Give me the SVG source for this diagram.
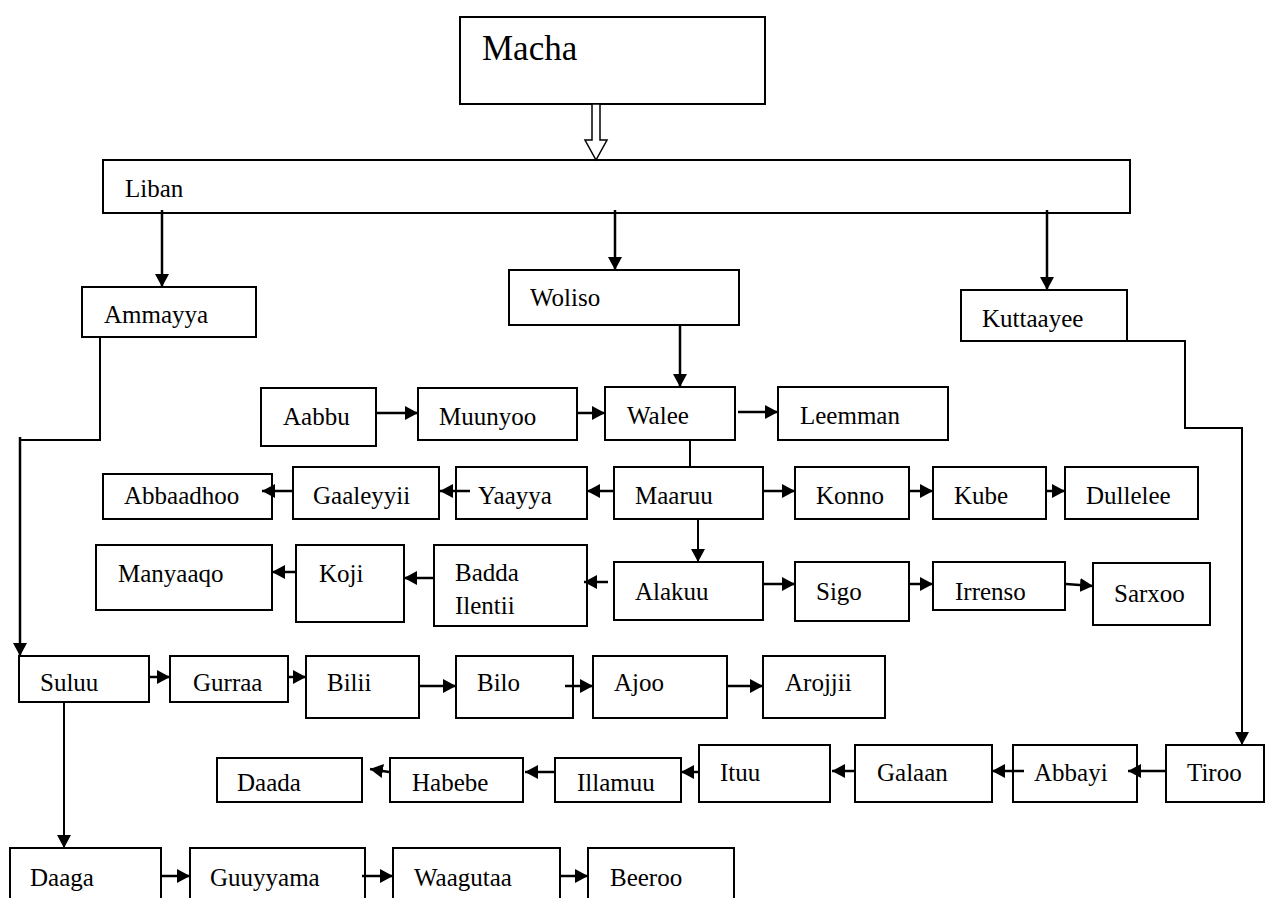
<svg xmlns="http://www.w3.org/2000/svg" width="1266" height="898" viewBox="0 0 1266 898">
<style>
.box{fill:#fff;stroke:#000;stroke-width:2}
.t{font-family:"Liberation Serif","Times New Roman",serif;font-size:25px;fill:#000}
.big{font-size:35px}
.c{fill:none;stroke:#000;stroke-width:2.5}
.c2{fill:none;stroke:#000;stroke-width:2}
</style>
<defs>
<marker id="ah" markerUnits="userSpaceOnUse" markerWidth="16" markerHeight="16" refX="13" refY="7" orient="auto">
<path d="M0,0 L13,7 L0,14 Z" fill="#000"/>
</marker>
</defs>
<g id="macha"><rect class="box" x="460" y="17" width="305" height="87"/><text class="t big" x="482" y="60">Macha</text></g>
<g id="liban"><rect class="box" x="103" y="160" width="1027" height="53"/><text class="t" x="125" y="197">Liban</text></g>
<g id="ammayya"><rect class="box" x="82" y="287" width="174" height="50"/><text class="t" x="104" y="323">Ammayya</text></g>
<g id="woliso"><rect class="box" x="509" y="270" width="230" height="55"/><text class="t" x="530" y="306">Woliso</text></g>
<g id="kuttaayee"><rect class="box" x="961" y="290" width="166" height="51"/><text class="t" x="982" y="327">Kuttaayee</text></g>
<g id="aabbu"><rect class="box" x="261" y="388" width="115" height="58"/><text class="t" x="283" y="425">Aabbu</text></g>
<g id="muunyoo"><rect class="box" x="418" y="388" width="159" height="52"/><text class="t" x="439" y="425">Muunyoo</text></g>
<g id="walee"><rect class="box" x="605" y="387" width="130" height="53"/><text class="t" x="627" y="424">Walee</text></g>
<g id="leemman"><rect class="box" x="778" y="387" width="170" height="53"/><text class="t" x="800" y="424">Leemman</text></g>
<g id="abbaadhoo"><rect class="box" x="103" y="474" width="169" height="45"/><text class="t" x="124" y="504">Abbaadhoo</text></g>
<g id="gaaleyyii"><rect class="box" x="293" y="467" width="146" height="52"/><text class="t" x="313" y="504">Gaaleyyii</text></g>
<g id="yaayya"><rect class="box" x="456" y="467" width="131" height="52"/><text class="t" x="478" y="504">Yaayya</text></g>
<g id="maaruu"><rect class="box" x="614" y="467" width="149" height="52"/><text class="t" x="635" y="504">Maaruu</text></g>
<g id="konno"><rect class="box" x="795" y="467" width="114" height="52"/><text class="t" x="816" y="504">Konno</text></g>
<g id="kube"><rect class="box" x="933" y="467" width="113" height="52"/><text class="t" x="954" y="504">Kube</text></g>
<g id="dullelee"><rect class="box" x="1065" y="467" width="133" height="52"/><text class="t" x="1086" y="504">Dullelee</text></g>
<g id="manyaaqo"><rect class="box" x="96" y="545" width="176" height="65"/><text class="t" x="118" y="582">Manyaaqo</text></g>
<g id="koji"><rect class="box" x="296" y="545" width="108" height="77"/><text class="t" x="319" y="582">Koji</text></g>
<g id="badda"><rect class="box" x="434" y="545" width="153" height="81"/><text class="t" x="455" y="581">Badda</text><text class="t" x="455" y="614">Ilentii</text></g>
<g id="alakuu"><rect class="box" x="614" y="562" width="149" height="58"/><text class="t" x="635" y="600">Alakuu</text></g>
<g id="sigo"><rect class="box" x="795" y="562" width="114" height="59"/><text class="t" x="816" y="600">Sigo</text></g>
<g id="irrenso"><rect class="box" x="933" y="562" width="132" height="48"/><text class="t" x="955" y="600">Irrenso</text></g>
<g id="sarxoo"><rect class="box" x="1093" y="563" width="117" height="62"/><text class="t" x="1114" y="602">Sarxoo</text></g>
<g id="suluu"><rect class="box" x="19" y="656" width="130" height="46"/><text class="t" x="40" y="691">Suluu</text></g>
<g id="gurraa"><rect class="box" x="170" y="656" width="118" height="46"/><text class="t" x="193" y="691">Gurraa</text></g>
<g id="bilii"><rect class="box" x="306" y="656" width="113" height="62"/><text class="t" x="327" y="691">Bilii</text></g>
<g id="bilo"><rect class="box" x="456" y="656" width="117" height="62"/><text class="t" x="477" y="691">Bilo</text></g>
<g id="ajoo"><rect class="box" x="593" y="656" width="134" height="62"/><text class="t" x="614" y="691">Ajoo</text></g>
<g id="arojjii"><rect class="box" x="763" y="656" width="122" height="62"/><text class="t" x="785" y="691">Arojjii</text></g>
<g id="daada"><rect class="box" x="217" y="758" width="145" height="44"/><text class="t" x="237" y="791">Daada</text></g>
<g id="habebe"><rect class="box" x="390" y="758" width="133" height="44"/><text class="t" x="412" y="791">Habebe</text></g>
<g id="illamuu"><rect class="box" x="555" y="758" width="126" height="44"/><text class="t" x="577" y="791">Illamuu</text></g>
<g id="ituu"><rect class="box" x="699" y="745" width="131" height="57"/><text class="t" x="720" y="781">Ituu</text></g>
<g id="galaan"><rect class="box" x="855" y="745" width="137" height="57"/><text class="t" x="877" y="781">Galaan</text></g>
<g id="abbayi"><rect class="box" x="1013" y="745" width="124" height="57"/><text class="t" x="1034" y="781">Abbayi</text></g>
<g id="tiroo"><rect class="box" x="1166" y="745" width="98" height="57"/><text class="t" x="1187" y="781">Tiroo</text></g>
<g id="daaga"><rect class="box" x="10" y="848" width="151" height="60"/><text class="t" x="30" y="886">Daaga</text></g>
<g id="guuyyama"><rect class="box" x="190" y="848" width="175" height="60"/><text class="t" x="210" y="886">Guuyyama</text></g>
<g id="waagutaa"><rect class="box" x="393" y="848" width="167" height="60"/><text class="t" x="414" y="886">Waagutaa</text></g>
<g id="beeroo"><rect class="box" x="588" y="848" width="146" height="60"/><text class="t" x="610" y="886">Beeroo</text></g>
<g id="connectors">
<polygon points="592,104 600,104 600,140 607,140 596,160 585,140 592,140" fill="#fff" stroke="#000" stroke-width="1.5"/>
<line class="c" x1="162" y1="210" x2="162" y2="287" marker-end="url(#ah)"/>
<line class="c" x1="615" y1="210" x2="615" y2="270" marker-end="url(#ah)"/>
<line class="c" x1="1047" y1="210" x2="1047" y2="290" marker-end="url(#ah)"/>
<polyline class="c2" points="100,338 100,440 20,440"/>
<line class="c" x1="20" y1="437" x2="20" y2="656" marker-end="url(#ah)"/>
<line class="c" x1="680" y1="326" x2="680" y2="387" marker-end="url(#ah)"/>
<polyline class="c2" points="1127,341 1185,341 1185,428 1242,428 1242,745" marker-end="url(#ah)"/>
<line class="c2" x1="690" y1="440" x2="690" y2="467"/>
<line class="c2" x1="698" y1="520" x2="698" y2="562" marker-end="url(#ah)"/>
<line class="c2" x1="64" y1="703" x2="64" y2="848" marker-end="url(#ah)"/>
<line class="c" x1="377" y1="413" x2="418" y2="413" marker-end="url(#ah)"/>
<line class="c" x1="578" y1="413" x2="605" y2="413" marker-end="url(#ah)"/>
<line class="c" x1="738" y1="412" x2="778" y2="412" marker-end="url(#ah)"/>
<line class="c" x1="292" y1="491" x2="262" y2="491" marker-end="url(#ah)"/>
<line class="c" x1="470" y1="491" x2="440" y2="491" marker-end="url(#ah)"/>
<line class="c" x1="613" y1="491" x2="587" y2="491" marker-end="url(#ah)"/>
<line class="c" x1="764" y1="491" x2="795" y2="491" marker-end="url(#ah)"/>
<line class="c" x1="910" y1="491" x2="933" y2="491" marker-end="url(#ah)"/>
<line class="c" x1="1047" y1="491" x2="1065" y2="491" marker-end="url(#ah)"/>
<line class="c" x1="295" y1="572" x2="272" y2="572" marker-end="url(#ah)"/>
<line class="c" x1="433" y1="578" x2="404" y2="578" marker-end="url(#ah)"/>
<line class="c" x1="608" y1="582" x2="584" y2="582" marker-end="url(#ah)"/>
<line class="c" x1="764" y1="584" x2="795" y2="584" marker-end="url(#ah)"/>
<line class="c" x1="910" y1="584" x2="933" y2="584" marker-end="url(#ah)"/>
<line class="c" x1="1066" y1="584" x2="1093" y2="586" marker-end="url(#ah)"/>
<line class="c" x1="150" y1="677" x2="170" y2="677" marker-end="url(#ah)"/>
<line class="c" x1="289" y1="677" x2="306" y2="677" marker-end="url(#ah)"/>
<line class="c" x1="420" y1="686" x2="456" y2="686" marker-end="url(#ah)"/>
<line class="c" x1="565" y1="686" x2="593" y2="686" marker-end="url(#ah)"/>
<line class="c" x1="728" y1="686" x2="763" y2="686" marker-end="url(#ah)"/>
<line class="c" x1="389" y1="772" x2="370" y2="769" marker-end="url(#ah)"/>
<line class="c" x1="554" y1="772" x2="525" y2="772" marker-end="url(#ah)"/>
<line class="c" x1="698" y1="772" x2="681" y2="772" marker-end="url(#ah)"/>
<line class="c" x1="854" y1="771" x2="832" y2="771" marker-end="url(#ah)"/>
<line class="c" x1="1024" y1="771" x2="992" y2="771" marker-end="url(#ah)"/>
<line class="c" x1="1165" y1="771" x2="1128" y2="771" marker-end="url(#ah)"/>
<line class="c" x1="162" y1="876" x2="190" y2="876" marker-end="url(#ah)"/>
<line class="c" x1="362" y1="876" x2="393" y2="876" marker-end="url(#ah)"/>
<line class="c" x1="561" y1="876" x2="588" y2="876" marker-end="url(#ah)"/>
</g>
</svg>
